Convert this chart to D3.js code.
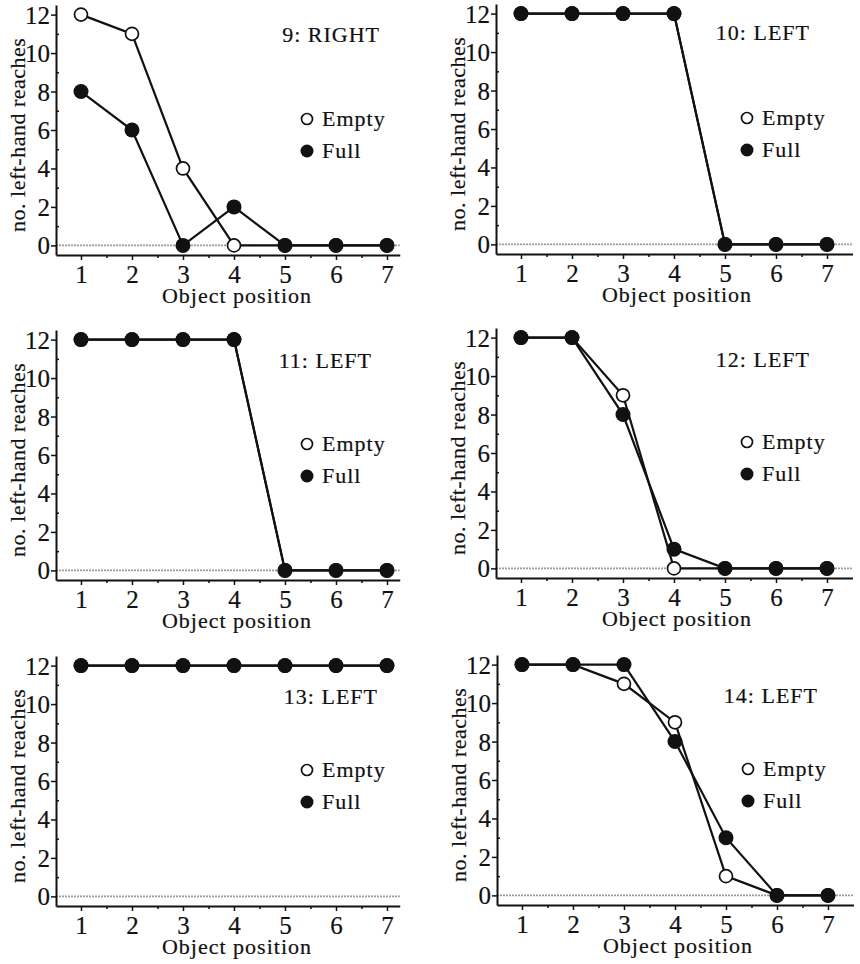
<!DOCTYPE html>
<html>
<head>
<meta charset="utf-8">
<script src="https://cdn.jsdelivr.net/npm/d3@7"></script>
<style>
    body { margin: 0; background: #fff; }
    svg { display: block; }
    text { font-family: "Liberation Serif", "DejaVu Serif", serif; font-size: 22px; letter-spacing: 1px; fill: #111; stroke: #111; stroke-width: 0.2px; }
</style>
</head>
<body>
<div id="app"></div>
<script>
"use strict";

// data
const positions = [1, 2, 3, 4, 5, 6, 7];
const yTicks = [0, 2, 4, 6, 8, 10, 12];
const yMinorTicks = [1, 3, 5, 7, 9, 11];
const xMinorTicks = [1.5, 2.5, 3.5, 4.5, 5.5, 6.5];
const panelTitles = ["9: RIGHT", "10: LEFT", "11: LEFT", "12: LEFT", "13: LEFT", "14: LEFT"];
const emptyCounts = [
    [12, 11, 4, 0, 0, 0, 0],
    [12, 12, 12, 12, 0, 0, 0],
    [12, 12, 12, 12, 0, 0, 0],
    [12, 12, 9, 0, 0, 0, 0],
    [12, 12, 12, 12, 12, 12, 12],
    [12, 12, 11, 9, 1, 0, 0]
];
const fullCounts = [
    [8, 6, 0, 2, 0, 0, 0],
    [12, 12, 12, 12, 0, 0, 0],
    [12, 12, 12, 12, 0, 0, 0],
    [12, 12, 8, 1, 0, 0, 0],
    [12, 12, 12, 12, 12, 12, 12],
    [12, 12, 12, 8, 3, 0, 0]
];
const legendLabels = ["Empty", "Full"];

// where each panel sits (origin = corner of the two axes)
const panelLayout = [
    { ox: 56,  oy: 255, xMax: 7.25, tx: 324, ty: -213 },
    { ox: 496, oy: 254, xMax: 7.5,  tx: 314, ty: -214 },
    { ox: 56,  oy: 580, xMax: 7.25, tx: 316, ty: -212 },
    { ox: 496, oy: 578, xMax: 7.5,  tx: 314, ty: -211 },
    { ox: 56,  oy: 906, xMax: 7.25, tx: 322, ty: -202 },
    { ox: 497, oy: 905, xMax: 7.5,  tx: 321, ty: -202 }
];

const svg = d3.select("#app").append("svg")
    .attr("width", 860)
    .attr("height", 964);

function drawPanel(i) {
    let lay = panelLayout[i];
    let g = svg.append("g").attr("transform", `translate(${lay.ox},${lay.oy})`);

    let x = d3.scaleLinear().domain([0.51, lay.xMax]).range([0, 51 * (lay.xMax - 0.51)]);
    let y = d3.scaleLinear().domain([-0.5, 12.5]).range([0, -250]);

    // faint line at zero
    g.append("line")
        .attr("x1", 0).attr("x2", x(lay.xMax))
        .attr("y1", y(0)).attr("y2", y(0))
        .attr("stroke", "#9a9a9a")
        .attr("stroke-width", 1.6)
        .attr("stroke-dasharray", "2,1");

    // y axis
    let yAxis = g.append("g")
        .call(d3.axisLeft(y).tickValues(yTicks).tickSize(5).tickSizeOuter(0).tickPadding(1).tickFormat(d3.format("d")));
    g.append("g")
        .call(d3.axisLeft(y).tickValues(yMinorTicks).tickSize(-3).tickSizeOuter(0).tickFormat(""))
        .select(".domain").remove();

    // x axis
    let xAxis = g.append("g")
        .call(d3.axisBottom(x).tickValues(positions).tickSize(5).tickSizeOuter(0).tickPadding(7).tickFormat(d3.format("d")));
    g.append("g")
        .call(d3.axisBottom(x).tickValues(xMinorTicks).tickSize(3).tickSizeOuter(0).tickFormat(""))
        .select(".domain").remove();

    for (let ax of [yAxis, xAxis]) {
        ax.select(".domain").attr("stroke", "#111").attr("stroke-width", 2);
        ax.selectAll(".tick text")
            .attr("fill", "#111")
            .style("font-family", "Liberation Serif, serif")
            .style("font-size", "25px")
            .style("letter-spacing", "0px");
    }
    yAxis.selectAll(".tick text").attr("dy", "0.34em");
    xAxis.selectAll(".tick text").attr("dy", "0.62em");
    g.selectAll(".tick line").attr("stroke", "#111").attr("stroke-width", 1.5);

    // axis titles
    g.append("text")
        .attr("x", x(4) + 3)
        .attr("y", 48)
        .attr("text-anchor", "middle")
        .text("Object position");

    g.append("text")
        .attr("transform", `translate(-31,${y(5.75)}) rotate(-90)`)
        .attr("text-anchor", "middle")
        .style("letter-spacing", "0.5px")
        .text("no. left-hand reaches");

    // panel title
    g.append("text")
        .attr("x", lay.tx)
        .attr("y", lay.ty)
        .attr("text-anchor", "end")
        .text(panelTitles[i]);

    // lines
    let line = d3.line().x((d, k) => x(positions[k])).y(d => y(d));
    g.append("path").datum(emptyCounts[i])
        .attr("d", line).attr("fill", "none").attr("stroke", "#111").attr("stroke-width", 2.2);
    g.append("path").datum(fullCounts[i])
        .attr("d", line).attr("fill", "none").attr("stroke", "#111").attr("stroke-width", 2.2);

    // markers
    g.selectAll(".empty").data(emptyCounts[i]).enter()
        .append("circle")
        .attr("class", "empty")
        .attr("cx", (d, k) => x(positions[k]))
        .attr("cy", d => y(d))
        .attr("r", 6.5)
        .attr("fill", "#fff")
        .attr("stroke", "#111")
        .attr("stroke-width", 1.7);
    g.selectAll(".full").data(fullCounts[i]).enter()
        .append("circle")
        .attr("class", "full")
        .attr("cx", (d, k) => x(positions[k]))
        .attr("cy", d => y(d))
        .attr("r", 7.5)
        .attr("fill", "#111");

    // legend
    let leg = g.selectAll(".leg").data(legendLabels).enter()
        .append("g")
        .attr("class", "leg")
        .attr("transform", (d, k) => `translate(251,${-136 + k * 32})`);
    leg.append("circle")
        .attr("r", (d, k) => k == 0 ? 5.5 : 6.5)
        .attr("fill", (d, k) => k == 0 ? "#fff" : "#111")
        .attr("stroke", "#111")
        .attr("stroke-width", (d, k) => k == 0 ? 1.7 : 0);
    leg.append("text")
        .attr("x", 15)
        .attr("y", 7)
        .text(d => d);
}

for (let i = 0; i < panelTitles.length; i++) drawPanel(i);
</script>
</body>
</html>
